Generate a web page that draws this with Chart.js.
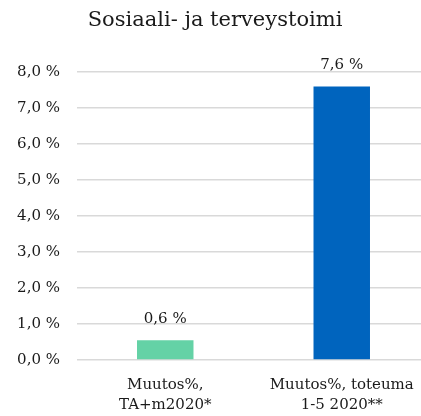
<!DOCTYPE html>
<html><head><meta charset="utf-8">
<script src="https://cdn.jsdelivr.net/npm/chart.js@4/dist/chart.umd.min.js"></script>
<style>html,body{margin:0;padding:0;background:#fff;overflow:hidden;}#wrap{width:421px;height:416px;overflow:hidden;}</style>
</head><body><div id="wrap"><canvas id="c" width="430" height="416"></canvas></div>
<script>
const title = "Sosiaali- ja terveystoimi";
const categories = [["Muutos%,", "TA+m2020*"], ["Muutos%, toteuma", "1-5 2020**"]];
const values = [0.55, 7.6];
const barColors = ["#64D2A6", "#0064BE"];
const yMin = 0, yMax = 8, yStep = 1;
const FONT = "'DejaVu Serif', 'Liberation Serif', serif";
const fmt = v => v.toFixed(1).replace('.', ',') + ' %';

const labelPlugin = {
  id: 'valueLabels',
  afterDatasetsDraw(chart) {
    const ctx = chart.ctx;
    const meta = chart.getDatasetMeta(0);
    ctx.save();
    ctx.font = "15px " + FONT;
    ctx.fillStyle = "#1a1a1a";
    ctx.textAlign = "center";
    ctx.textBaseline = "middle";
    meta.data.forEach((bar, i) => {
      ctx.fillText(fmt(values[i]), bar.x, bar.y - 21);
    });
    ctx.restore();
  }
};

new Chart(document.getElementById('c'), {
  type: 'bar',
  data: {
    labels: categories,
    datasets: [{ data: values, backgroundColor: barColors, barPercentage: 0.32, categoryPercentage: 1 }]
  },
  options: {
    responsive: false,
    animation: false,
    layout: { padding: 0 },
    plugins: {
      legend: { display: false },
      tooltip: { enabled: false },
      title: { display: true, text: title, color: "#1a1a1a", font: { family: FONT, size: 21, weight: 'normal' }, padding: { top: 8, bottom: 39 } }
    },
    scales: {
      x: {
        grid: { display: false, drawTicks: false },
        border: { display: false },
        ticks: { color: "#1a1a1a", font: { family: FONT, size: 15, lineHeight: '20px' }, padding: 15, maxRotation: 0, autoSkip: false },
        afterFit(scale) { scale.height = 56; }
      },
      y: {
        min: yMin, max: yMax,
        grid: { color: "#d9d9d9", lineWidth: 1.5, drawTicks: false },
        border: { display: false },
        ticks: { stepSize: yStep, color: "#1a1a1a", font: { family: FONT, size: 15 }, padding: 17, callback: v => fmt(v) },
        afterFit(scale) { scale.width = 77; }
      }
    }
  },
  plugins: [labelPlugin]
});
</script>
</body></html>
